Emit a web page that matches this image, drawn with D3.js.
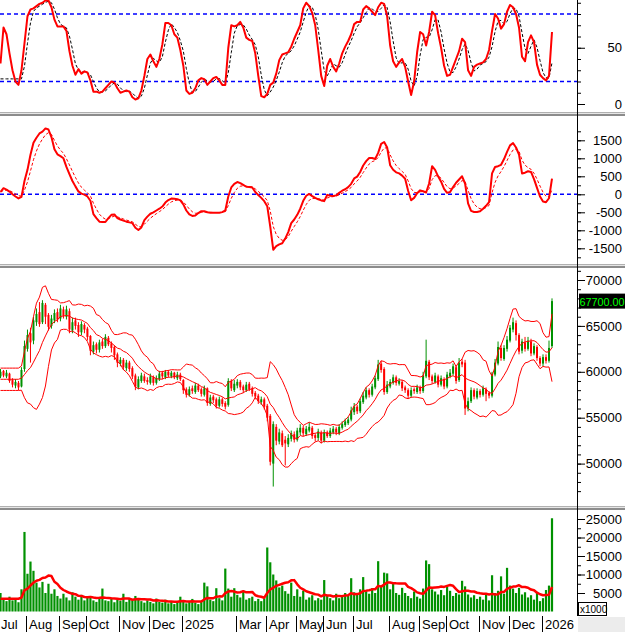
<!DOCTYPE html>
<html><head><meta charset="utf-8">
<script src="https://cdn.jsdelivr.net/npm/d3@7/dist/d3.min.js"></script>
<style>html,body{margin:0;padding:0;background:#fff;overflow:hidden}svg{display:block}text{font-family:"Liberation Sans",Arial,sans-serif}</style>
</head><body><svg id="c" width="625" height="632"></svg>
<script>
// ---- data (one bar ≈ 2 trading days, Jul 2024 – Jan 2026) ----
const rsi=[36,68,62,45,30,20,17,30,54,78, 84,85,87,89,90,92,92,86,75,69, 69,69,65,47,34,26,31,27,29,28,
21,11,11,10,11,14,17,20,19,14, 10,11,12,11,6,4,5,12,25,40, 44,38,33,40,53,72,72,70,62,59,
48,34,12,9,10,14,21,23,22,17, 20,23,24,21,17,17,50,70,69,70, 73,68,59,57,56,45,25,7,6,9,
17,19,27,39,44,45,46,51,58,64, 70,85,90,87,81,70,48,25,16,34, 40,33,29,36,45,51,56,62,71,73,
73,84,87,85,82,79,86,90,89,78, 52,38,33,37,40,33,20,8,20,46, 64,62,52,64,82,79,63,50,34,25,
26,33,40,47,58,55,30,25,33,35, 36,37,40,48,65,80,76,67,71,82, 88,86,80,68,42,38,55,61,55,35,
26,23,21,25,64];
const macd=[64,170,130,75,0,-60,-115,-70,370,680, 1100,1430,1570,1690,1740,1830,1800,1590,1250,1110,
1060,1000,760,560,370,220,80,20,-10,-60, -180,-550,-660,-760,-770,-770,-660,-570,-560,-660,
-700,-730,-760,-780,-800,-930,-990,-920,-720,-620, -540,-500,-450,-400,-340,-230,-160,-120,-125,-135,
-170,-280,-450,-560,-600,-590,-520,-470,-470,-500, -510,-510,-510,-510,-495,-450,-60,190,290,340,
310,260,210,205,190,64,-20,-100,-190,-330, -900,-1540,-1440,-1390,-1360,-1230,-1050,-800,-700,-570,
-400,-180,-40,10,-50,-100,-139,-170,-190,-15, -40,-45,-30,40,100,140,200,290,440,490,
620,800,920,1008,1008,980,1150,1400,1453,1300, 806,680,610,580,520,433,100,-167,-100,30,
110,85,50,300,780,680,500,350,150,40, 64,200,320,410,500,300,-250,-460,-490,-490,
-472,-400,-320,-220,580,758,780,820,980,1180, 1360,1420,1300,1100,580,600,640,620,420,180,
-60,-200,-220,-110,433];
// prices in thousands
const open=[59.5,60.1,59.5,59.8,59.1,58.5,58.8,58.4,60.3,62.5, 64.2,63.4,65.4,66.5,65.4,67.3,66.2,65.0,65.6,66.5,
65.8,66.8,66.0,66.6,64.5,65.6,65.1,64.3,65.1,64.7, 63.9,62.2,63.0,62.4,63.3,62.8,63.7,63.1,62.7,61.9,
60.9,61.3,60.4,61.0,60.4,59.6,58.3,59.0,59.5,59.1, 58.8,59.4,58.8,59.2,59.9,59.4,60.0,59.5,59.9,59.3,
59.7,59.1,58.1,57.5,58.2,57.8,58.5,58.1,57.5,58.2, 56.5,57.3,57.0,56.3,57.0,56.6,56.4,59.0,58.0,58.5,
58.9,58.4,58.0,58.7,58.2,57.7,57.4,56.7,57.0,56.3, 55.2,50.0,54.0,52.4,53.3,52.6,52.1,52.7,53.2,52.6,
53.4,53.9,53.2,53.6,53.9,53.1,52.8,53.4,52.5,53.4, 53.0,53.4,53.8,53.3,53.9,54.2,54.4,54.8,55.6,56.2,
55.7,56.7,57.2,58.0,57.5,58.3,59.2,60.9,60.3,57.8, 58.4,58.8,59.4,58.7,58.9,58.3,58.0,57.4,58.1,57.8,
58.3,57.9,59.5,61.1,59.5,58.9,59.5,58.6,59.2,58.4, 59.5,59.8,60.5,59.1,61.1,61.0,56.0,56.8,58.0,57.2,
57.9,57.5,58.1,57.7,57.4,59.7,60.9,62.6,61.4,62.5, 63.4,64.6,65.3,64.0,62.3,63.2,62.5,63.3,62.0,62.7,
61.5,60.9,61.6,61.2,62.8];
const high=[60.3,60.2,60.2,59.9,59.3,59.2,59.0,60.5,63.4,64.6, 64.8,66.0,66.9,67.6,67.8,67.5,66.4,66.2,66.8,66.9,
67.3,67.1,67.2,66.9,65.9,65.9,65.4,65.5,65.3,64.9, 64.0,63.3,63.2,63.5,63.6,64.1,63.9,63.3,62.9,62.1,
61.6,61.5,61.3,61.2,60.6,59.8,59.5,59.9,59.8,59.4, 59.8,59.6,59.6,60.1,60.1,60.2,60.2,60.1,60.0,60.0,
59.9,59.2,58.3,58.4,58.5,58.8,58.7,58.3,58.5,58.3, 57.5,57.5,57.2,57.3,57.2,56.8,59.3,59.2,59.1,59.2,
59.1,58.6,58.9,58.9,58.4,57.9,57.6,57.3,57.2,56.5, 55.4,54.6,54.3,53.8,53.6,53.0,53.2,53.6,53.5,53.9,
54.3,54.1,54.1,54.5,54.1,53.3,53.8,53.6,53.7,53.6, 53.9,54.1,54.0,54.3,54.6,54.9,55.1,56.2,56.6,56.4,
57.1,57.8,58.3,58.2,58.7,59.6,61.3,61.2,60.5,59.0, 59.2,59.7,59.6,59.3,59.1,58.5,58.2,58.3,58.3,58.6,
58.5,60.0,63.5,61.3,59.7,59.9,59.7,59.6,59.4,60.0, 60.3,60.9,60.7,61.5,61.4,61.3,57.2,58.3,58.2,58.2,
58.1,58.5,58.3,57.9,60.0,61.4,63.3,62.9,62.9,63.9, 65.1,65.9,65.6,64.2,63.6,63.8,63.8,63.6,63.1,62.9,
61.7,61.9,61.9,63.4,68.0];
const low=[59.3,59.4,59.3,58.8,58.3,58.2,58.0,58.3,60.0,62.2, 61.0,63.0,65.0,64.9,65.2,65.2,64.5,64.7,65.3,65.4,
65.5,65.8,65.7,64.2,64.2,64.6,63.8,64.0,64.2,63.4, 61.8,61.9,62.0,62.1,62.5,62.6,62.8,62.1,61.3,60.5,
60.6,60.2,60.1,60.0,59.2,58.0,58.1,58.8,58.8,58.6, 58.6,58.5,58.6,59.0,59.2,59.2,59.4,59.3,59.2,59.1,
59.0,57.6,57.2,57.3,57.6,57.6,57.8,57.3,57.3,56.3, 56.3,56.6,56.0,56.1,56.2,55.9,56.2,57.9,57.8,58.2,
58.0,57.7,57.8,57.9,57.3,57.0,56.5,56.4,55.9,54.6, 49.8,47.5,52.0,52.1,51.8,49.8,51.8,52.4,52.3,52.4,
53.1,53.0,53.0,53.4,52.7,52.4,52.5,52.2,52.3,52.8, 52.8,53.2,53.1,53.1,53.7,54.0,54.2,54.6,55.3,55.4,
55.5,56.5,57.0,57.2,57.3,58.1,59.0,59.9,57.5,57.6, 58.2,58.6,58.5,58.5,57.9,57.7,57.1,57.2,57.6,57.6,
57.6,57.7,59.3,59.1,58.7,58.7,58.3,58.4,58.1,58.2, 59.3,59.6,58.7,58.9,60.5,55.3,55.7,56.6,57.0,57.0,
57.2,57.3,56.8,57.1,57.2,59.5,60.7,61.2,61.2,62.2, 63.2,64.3,63.4,61.9,62.0,62.2,62.3,61.7,61.8,61.2,
60.6,60.6,60.9,61.0,62.6];
const close=[60.0,59.6,59.9,59.0,58.6,58.9,58.3,60.2,62.8,64.0, 63.2,65.6,66.3,65.2,67.5,66.0,64.9,65.8,66.4,65.7,
66.9,66.1,66.8,64.6,65.4,65.0,64.3,65.2,64.6,63.8, 62.3,62.9,62.4,63.2,62.8,63.8,63.0,62.6,61.8,61.0,
61.3,60.5,61.0,60.3,59.5,58.4,59.2,59.6,59.0,58.9, 59.5,58.8,59.3,59.8,59.5,60.0,59.6,59.9,59.4,59.7,
59.2,58.0,57.5,58.1,57.9,58.5,58.0,57.6,58.2,56.6, 57.2,56.9,56.3,57.0,56.5,56.2,59.0,58.2,58.7,58.9,
58.3,58.0,58.6,58.1,57.6,57.3,56.8,57.0,56.2,55.0, 50.2,54.3,52.5,53.4,52.0,52.2,52.8,53.3,52.6,53.6,
53.9,53.3,53.8,54.0,53.0,52.8,53.5,52.5,53.4,53.0, 53.6,53.8,53.4,54.0,54.3,54.6,54.8,55.8,56.2,55.7,
56.8,57.4,58.0,57.5,58.4,59.3,60.8,60.2,57.8,58.6, 58.9,59.4,58.8,59.0,58.2,58.0,57.4,58.0,57.9,58.3,
57.9,59.6,61.2,59.4,59.0,59.6,58.6,59.3,58.4,59.7, 59.9,60.6,59.0,61.0,60.8,56.0,56.8,58.0,57.3,57.9,
57.5,58.2,57.6,57.4,59.8,61.0,62.7,61.5,62.6,63.5, 64.8,65.4,64.0,62.2,63.3,62.5,63.4,62.0,62.8,61.5,
60.9,61.6,61.2,62.6,67.7];
// volume in thousands
const volume=[5.0,3.2,2.8,4.0,3.0,3.6,2.5,6.0,21.5,10.2, 13.5,11.0,7.8,6.5,8.0,5.0,7.5,4.8,6.0,4.2,
3.5,4.8,3.8,3.0,5.2,4.0,3.2,4.5,3.0,3.8, 4.2,3.0,2.6,3.5,6.2,3.0,2.8,3.6,2.5,3.2,
2.9,4.8,2.6,3.4,3.0,4.2,3.6,2.8,2.4,3.0, 2.6,2.2,3.5,2.6,2.4,3.2,2.2,2.8,2.0,2.6,
4.0,3.0,2.2,2.6,3.4,2.4,2.0,2.6,7.8,6.8, 3.2,2.8,6.3,3.6,3.0,11.6,6.2,4.0,6.3,4.5,
3.8,5.6,3.2,3.6,4.0,2.8,3.4,2.8,3.6,17.3, 13.3,10.0,8.4,6.5,7.0,5.5,4.8,7.8,4.2,6.0,
4.0,5.6,3.2,3.8,4.4,3.0,3.6,3.2,8.5,4.2, 3.6,3.0,4.8,3.6,4.0,5.0,4.2,9.0,5.2,4.6,
6.0,9.3,5.5,4.8,6.3,5.0,13.6,7.0,10.5,10.3, 6.0,7.6,5.0,4.5,6.4,5.0,4.2,3.6,5.4,4.0,
3.5,6.2,13.8,12.8,6.0,5.4,4.6,5.8,4.4,6.8, 5.6,4.2,5.0,4.6,8.3,6.8,4.6,3.8,4.4,3.4,
4.0,3.2,4.6,3.0,9.8,5.0,5.6,9.5,4.8,11.8, 7.0,6.2,5.0,6.4,4.6,5.2,3.8,4.4,3.2,5.0,
2.8,3.6,5.8,7.0,25.2];
const monthLabels=["Jul","Aug","Sep","Oct","Nov","Dec","2025","Mar","Apr","May","Jun","Jul","Aug","Sep","Oct","Nov","Dec","2026"];
const monthStart=[-2,9,20,29,40,50,61,79,89,99,108,118,130,140,149,160,170,181];
const rsiLabels=[0,50], rsiLevels=[20,80];
const macdLabels=[-1500,-1000,-500,0,500,1000,1500];
const priceLabels=[50000,55000,60000,65000,70000];
const volLabels=[5000,10000,15000,20000,25000];
const lastPriceText="67700.00";

// ---- drawing ----
const svg=d3.select("#c");
const AX=577, RED="#ff0000", GREEN="#009100";
const N=close.length, WARM=7;
const x=d3.scaleLinear().domain([0,N-1]).range([0.5,552]);
const P={
  rsi:{t:0,b:112,y:d3.scaleLinear().domain([0,100]).range([104,-8.5])},
  macd:{t:116,b:264,y:d3.scaleLinear().domain([-1500,1500]).range([248.3,140.3])},
  price:{t:267,b:506,y:d3.scaleLinear().domain([50000,70000]).range([463.6,280])},
  vol:{t:510,b:612,y:d3.scaleLinear().domain([0,25000]).range([611.5,519])}
};
const defs=svg.append("defs");
Object.entries(P).forEach(([k,p])=>{
  defs.append("clipPath").attr("id","cl-"+k).append("rect").attr("x",0).attr("y",p.t).attr("width",AX).attr("height",p.b-p.t);
  p.g=svg.append("g").attr("clip-path","url(#cl-"+k+")");
});
// rolling window; the first bars (before the window fills) use the first WARM bars
function win(a,i,n){const e=Math.max(i,WARM-1)+1;return a.slice(Math.max(0,e-n),e);}
function sma(a,n){return a.map((_,i)=>d3.mean(win(a,i,n)));}
function sd(a,n){return a.map((_,i)=>{const s=win(a,i,n);const m=d3.mean(s);return Math.sqrt(d3.mean(s,v=>(v-m)*(v-m)));});}
function ema(a,n){const k=2/(n+1);const r=[a[0]];for(let i=1;i<a.length;i++)r.push(r[i-1]+(a[i]-r[i-1])*k);return r;}
function line(g,vals,y,opt){
  g.append("path").datum(vals).attr("fill","none").attr("stroke",opt.c).attr("stroke-width",opt.w)
   .attr("stroke-dasharray",opt.d||null).attr("stroke-linejoin","round")
   .attr("d",d3.line().x((d,i)=>x(i)).y(d=>y(d)));
}
function hdash(g,y,v,c){g.append("line").attr("x1",0).attr("x2",AX).attr("y1",y(v)).attr("y2",y(v)).attr("stroke",c).attr("stroke-width",1.4).attr("stroke-dasharray","4,3");}

// RSI
rsiLevels.forEach(v=>hdash(P.rsi.g,P.rsi.y,v,"#0000ff"));
line(P.rsi.g,sma(rsi,3),P.rsi.y,{c:"#000",w:1,d:"3,2"});
line(P.rsi.g,rsi,P.rsi.y,{c:RED,w:2});
// MACD
hdash(P.macd.g,P.macd.y,0,"#0000ff");
line(P.macd.g,ema(macd,4),P.macd.y,{c:RED,w:1,d:"3,2"});
line(P.macd.g,macd,P.macd.y,{c:RED,w:2});
// Price candles
const py=v=>P.price.y(v*1000);
const cg=P.price.g.append("g");
close.forEach((c,i)=>{
  const o=open[i],col=c>=o?GREEN:RED;
  cg.append("line").attr("x1",x(i)).attr("x2",x(i)).attr("y1",py(high[i])).attr("y2",py(low[i])).attr("stroke",col).attr("stroke-width",1);
  const y1=py(Math.max(o,c)),y2=py(Math.min(o,c));
  cg.append("rect").attr("x",x(i)-1).attr("width",2).attr("y",y1).attr("height",Math.max(1,y2-y1)).attr("fill",col);
});
const mid=sma(close,10),dev=sd(close,10);
line(P.price.g,mid,py,{c:RED,w:1});
line(P.price.g,mid.map((m,i)=>m+2*dev[i]),py,{c:RED,w:1});
line(P.price.g,mid.map((m,i)=>m-2*dev[i]),py,{c:RED,w:1});
// Volume
const vy=v=>P.vol.y(v*1000);
P.vol.g.selectAll("rect.v").data(volume).enter().append("rect").attr("x",(d,i)=>x(i)-1.1).attr("width",2.2)
  .attr("y",d=>vy(d)).attr("height",d=>vy(0)-vy(d)).attr("fill",GREEN);
line(P.vol.g,sma(volume,10),vy,{c:RED,w:2.5});

// separators
[112,264,506].forEach(y=>{
  svg.append("rect").attr("x",0).attr("y",y).attr("width",625).attr("height",4).attr("fill","#e6e6e6");
  svg.append("line").attr("x1",0).attr("x2",625).attr("y1",y+0.5).attr("y2",y+0.5).attr("stroke","#b0b0b0");
  svg.append("line").attr("x1",0).attr("x2",625).attr("y1",y+3).attr("y2",y+3).attr("stroke","#6e6e6e").attr("stroke-width",1.5);
});

// right axes
function axis(p,labels,minor){
  const g=svg.append("g").attr("transform","translate("+AX+",0)");
  g.call(d3.axisRight(p.y).tickValues(minor).tickSize(4).tickFormat(""));
  g.select(".domain").remove();
  const g2=svg.append("g").attr("transform","translate("+AX+",0)");
  g2.call(d3.axisRight(p.y).tickValues(labels).tickSize(8).tickFormat(d=>d));
  g2.select(".domain").remove();
  g2.selectAll("text").attr("x",622-AX).attr("text-anchor","end").attr("font-size",13).attr("fill","#000")
    .attr("font-family","'Liberation Sans',Arial,sans-serif");
  g.selectAll("line").attr("stroke","#000");g2.selectAll("line").attr("stroke","#000");
}
axis(P.rsi,rsiLabels,d3.range(0,101,10));
axis(P.macd,macdLabels,d3.range(-1750,1751,250));
axis(P.price,priceLabels,d3.range(47000,71001,1000));
axis(P.vol,volLabels,d3.range(2500,25001,2500));
svg.append("line").attr("x1",AX+0.5).attr("x2",AX+0.5).attr("y1",0).attr("y2",616).attr("stroke","#000");

// last price box
const lp=py(close[N-1]);
svg.append("rect").attr("x",579).attr("y",lp-7.5).attr("width",46).attr("height",15).attr("fill","#000");
svg.append("text").attr("x",579.5).attr("y",lp+4.5).attr("font-size",10.8).attr("fill","#00ff00").text(lastPriceText);

// x1000 + corner
svg.append("rect").attr("x",578).attr("y",617).attr("width",47).attr("height",15).attr("fill","#ececec");
svg.append("rect").attr("x",578.5).attr("y",602.5).attr("width",28).attr("height",13).attr("fill","#fff").attr("stroke","#000");
svg.append("text").attr("x",580).attr("y",613).attr("font-size",10).attr("fill","#000").text("x1000");

// month axis
const xg=svg.append("g");
monthLabels.forEach((m,k)=>{
  const tx=Math.round(x(monthStart[k]-0.5))+0.5;
  xg.append("line").attr("x1",tx).attr("x2",tx).attr("y1",616).attr("y2",632).attr("stroke","#000");
  xg.append("text").attr("x",Math.max(tx+2.5,1)).attr("y",629).attr("font-size",13).attr("fill","#000").text(m);
});
</script></body></html>
